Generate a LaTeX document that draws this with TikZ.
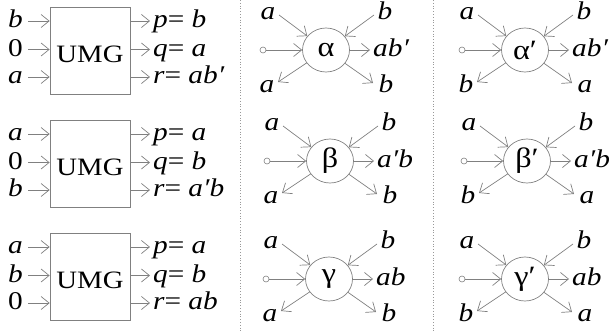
\documentclass[tikz,border=0pt]{standalone}
\usepackage{fontspec}
\setmainfont{Liberation Serif}[FakeStretch=1.15]
\usetikzlibrary{arrows.meta,calc,shapes.geometric}
\tikzset{
  ln/.style={draw=black!50, line width=0.7pt},
  arr/.style={ln, -{Straight Barb[length=8pt,width=13pt]}},
  lbl/.style={font=\fontsize{25.5}{30}\selectfont\itshape, inner xsep=1.5pt, inner ysep=0pt, text height=17pt, text depth=4pt},
  inl/.style={lbl, anchor=east, inner xsep=5pt},
  outl/.style={lbl, anchor=west, inner xsep=3pt},
  umg/.style={draw=black!50, line width=0.7pt, minimum width=80pt, minimum height=87pt, inner sep=0pt},
  umgtext/.style={font=\fontsize{25}{30}\selectfont, inner sep=0pt},
  gc/.style={ellipse, draw=black!50, line width=0.7pt, minimum width=47pt, minimum height=44pt, inner sep=0pt, font=\fontsize{28}{30}\selectfont},
  src/.style={circle, draw=black!50, line width=0.6pt, minimum size=6pt, inner sep=0pt},
  sep/.style={draw=black!40, line width=0.8pt, dotted}
}
\newcommand\pr{\char"2032}
% #1 name, #2 cx, #3 cy, #4 greek, #5 tl, #6 tr, #7 out, #8 bl, #9 br
\newcommand\gatefig[9]{%
  \node[gc] (#1) at (#2,#3) {#4};
  \node[src] (#1s) at ($(#1)+(-63,0)$) {};
  \draw[arr] (#1s) -- (#1);
  \node[lbl] (#1tl) at ($(#1)+(-58,-37.5)$) {#5};
  \node[lbl] (#1tr) at ($(#1)+(59,-37.5)$) {#6};
  \coordinate (#1tlc) at ($(#1)+(-47,-35)$);
  \coordinate (#1trc) at ($(#1)+(48,-35)$);
  \draw[arr] (#1tlc) -- (#1);
  \draw[arr] (#1trc) -- (#1);
  \node[outl] (#1o) at ($(#1)+(44,0)$) {#7};
  \draw[arr] (#1) -- (#1o.west);
  \coordinate (#1blc) at ($(#1)+(-48,32)$);
  \coordinate (#1brc) at ($(#1)+(47,33)$);
  \draw[arr] (#1) -- (#1blc);
  \draw[arr] (#1) -- (#1brc);
  \node[lbl] (#1bl) at ($(#1)+(-59,35.5)$) {#8};
  \node[lbl] (#1br) at ($(#1)+(60,35.5)$) {#9};
}
% #1 name, #2 top y, #3 in1, #4 in2, #5 in3, #6 out1, #7 out2, #8 out3
\newcommand\umgfig[8]{%
  \node[umg] (#1) at (90,#2+43.5) {};
  \node[umgtext] (#1t) at ($(#1)+(0,4)$) {UMG};
  \node[inl] (#1a) at (28,#2+14) {#3};
  \node[inl] (#1b) at (28,#2+42.5) {#4};
  \node[inl] (#1c) at (28,#2+70) {#5};
  \draw[arr] (#1a) -- (#1.west |- #1a);
  \draw[arr] (#1b) -- (#1.west |- #1b);
  \draw[arr] (#1c) -- (#1.west |- #1c);
  \node[outl] (#1p) at (150,#2+14) {#6};
  \node[outl] (#1q) at (150,#2+42.5) {#7};
  \node[outl] (#1r) at (150,#2+70) {#8};
  \draw[arr] (#1.east |- #1p) -- (#1p.west);
  \draw[arr] (#1.east |- #1q) -- (#1q.west);
  \draw[arr] (#1.east |- #1r) -- (#1r.west);
}
\newcommand\eq{{\upshape=} }
\begin{document}
\begin{tikzpicture}[x=1pt,y=-1pt]
\useasboundingbox (0,0) rectangle (612,332);
% separators
\draw[sep] (240,0) -- (240,332);
\draw[sep] (433,0) -- (433,332);
% UMG blocks
\umgfig{U1}{7}{b}{\upshape 0}{a}{p\eq b}{q\eq a}{r\eq ab\pr}
\umgfig{U2}{120}{a}{\upshape 0}{b}{p\eq a}{q\eq b}{r\eq a\pr b}
\umgfig{U3}{233}{a}{b}{\upshape 0}{p\eq a}{q\eq b}{r\eq ab}
% gates
\gatefig{A}{326}{50}{α}{a}{b}{ab\pr}{a}{b}
\gatefig{Ap}{525}{50}{α\pr}{a}{b}{ab\pr}{b}{a}
\gatefig{B}{330}{161}{β}{a}{b}{a\pr b}{a}{b}
\gatefig{Bp}{527}{161}{β\pr}{a}{b}{a\pr b}{b}{a}
\gatefig{G}{329}{279}{γ}{a}{b}{ab}{a}{b}
\gatefig{Gp}{525}{279}{γ\pr}{a}{b}{ab}{b}{a}
\end{tikzpicture}
\end{document}
